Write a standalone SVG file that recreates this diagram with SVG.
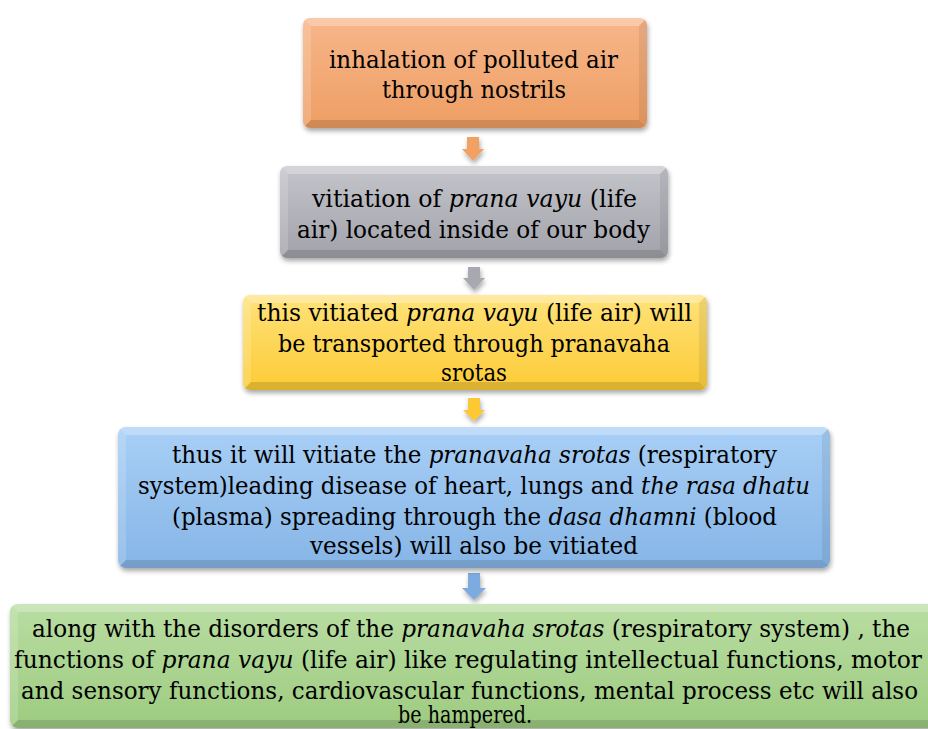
<svg xmlns="http://www.w3.org/2000/svg" width="928" height="729" viewBox="0 0 928 729">
<style>
  text { font-family: "DejaVu Serif", serif; font-size: 25px; fill: #000; }
  .i { font-style: italic; }
  .bt { fill: #fff; opacity: 0.28; }
  .bl { fill: #fff; opacity: 0.16; }
  .bb { fill: #000; opacity: 0.13; }
  .br { fill: #000; opacity: 0.07; }
</style>
<defs>
  <filter id="sh" x="-10%" y="-20%" width="130%" height="150%">
    <feGaussianBlur in="SourceAlpha" stdDeviation="2.5"/>
    <feOffset dx="1" dy="3" result="o"/>
    <feComponentTransfer><feFuncA type="linear" slope="0.35"/></feComponentTransfer>
    <feMerge><feMergeNode/><feMergeNode in="SourceGraphic"/></feMerge>
  </filter>
  <linearGradient id="gO" x1="0" y1="0" x2="0" y2="1"><stop offset="0" stop-color="#F7B68A"/><stop offset="1" stop-color="#EE9E63"/></linearGradient>
  <linearGradient id="gG" x1="0" y1="0" x2="0" y2="1"><stop offset="0" stop-color="#C4C4CB"/><stop offset="1" stop-color="#A2A2AA"/></linearGradient>
  <linearGradient id="gY" x1="0" y1="0" x2="0" y2="1"><stop offset="0" stop-color="#FFE27A"/><stop offset="1" stop-color="#FCCB36"/></linearGradient>
  <linearGradient id="gB" x1="0" y1="0" x2="0" y2="1"><stop offset="0" stop-color="#A8CFF6"/><stop offset="1" stop-color="#86B5E6"/></linearGradient>
  <linearGradient id="gN" x1="0" y1="0" x2="0" y2="1"><stop offset="0" stop-color="#B9DDA2"/><stop offset="1" stop-color="#9DCB80"/></linearGradient>
  <clipPath id="c1"><rect x="303" y="18" width="344" height="110" rx="7"/></clipPath>
  <clipPath id="c2"><rect x="280" y="166" width="388" height="92" rx="7"/></clipPath>
  <clipPath id="c3"><rect x="243" y="295" width="464" height="95" rx="7"/></clipPath>
  <clipPath id="c4"><rect x="118" y="427" width="712" height="141" rx="8"/></clipPath>
  <clipPath id="c5"><rect x="10" y="604" width="930" height="124" rx="8"/></clipPath>
</defs>

<g id="connectors">
  <polygon filter="url(#sh)" fill="#F3A163" points="467,137 479,137 479,149 484,149 473,161 462,149 467,149"/>
  <polygon filter="url(#sh)" fill="#A8A8B0" points="468,267 480,267 480,278 485,278 474,290 463,278 468,278"/>
  <polygon filter="url(#sh)" fill="#FCC934" points="468,398 480,398 480,410 485,410 474,421 463,410 468,410"/>
  <polygon filter="url(#sh)" fill="#7DABDF" points="468,573 480,573 480,588 486,588 474,600 462,588 468,588"/>
</g>

<g id="n1">
  <g filter="url(#sh)">
    <rect x="303" y="18" width="344" height="110" rx="7" fill="url(#gO)"/>
    <g clip-path="url(#c1)">
      <polygon class="bt" points="303,18 647,18 639,26 311,26"/>
      <polygon class="bl" points="303,18 311,26 311,120 303,128"/>
      <polygon class="bb" points="303,128 311,120 639,120 647,128"/>
      <polygon class="br" points="647,18 647,128 639,120 639,26"/>
    </g>
  </g>
  <text x="329" y="68" textLength="289" lengthAdjust="spacingAndGlyphs">inhalation of polluted air</text>
  <text x="382" y="98" textLength="184" lengthAdjust="spacingAndGlyphs">through nostrils</text>
</g>

<g id="n2">
  <g filter="url(#sh)">
    <rect x="280" y="166" width="388" height="92" rx="7" fill="url(#gG)"/>
    <g clip-path="url(#c2)">
      <polygon class="bt" points="280,166 668,166 660,174 288,174"/>
      <polygon class="bl" points="280,166 288,174 288,250 280,258"/>
      <polygon class="bb" points="280,258 288,250 660,250 668,258"/>
      <polygon class="br" points="668,166 668,258 660,250 660,174"/>
    </g>
  </g>
  <text x="312" y="207" textLength="325" lengthAdjust="spacingAndGlyphs">vitiation of <tspan class="i">prana vayu</tspan> (life</text>
  <text x="297" y="238" textLength="353" lengthAdjust="spacingAndGlyphs">air) located inside of our body</text>
</g>

<g id="n3">
  <g filter="url(#sh)">
    <rect x="243" y="295" width="464" height="95" rx="7" fill="url(#gY)"/>
    <g clip-path="url(#c3)">
      <polygon class="bt" points="243,295 707,295 699,303 251,303"/>
      <polygon class="bl" points="243,295 251,303 251,382 243,390"/>
      <polygon class="bb" points="243,390 251,382 699,382 707,390"/>
      <polygon class="br" points="707,295 707,390 699,382 699,303"/>
    </g>
  </g>
  <text x="257" y="321" textLength="435" lengthAdjust="spacingAndGlyphs">this vitiated <tspan class="i">prana vayu</tspan> (life air) will</text>
  <text x="278" y="352" textLength="392" lengthAdjust="spacingAndGlyphs">be transported through pranavaha</text>
  <text x="441" y="381" textLength="66" lengthAdjust="spacingAndGlyphs">srotas</text>
</g>

<g id="n4">
  <g filter="url(#sh)">
    <rect x="118" y="427" width="712" height="141" rx="8" fill="url(#gB)"/>
    <g clip-path="url(#c4)">
      <polygon class="bt" points="118,427 830,427 822,435 126,435"/>
      <polygon class="bl" points="118,427 126,435 126,560 118,568"/>
      <polygon class="bb" points="118,568 126,560 822,560 830,568"/>
      <polygon class="br" points="830,427 830,568 822,560 822,435"/>
    </g>
  </g>
  <text x="172" y="463" textLength="605" lengthAdjust="spacingAndGlyphs">thus it will vitiate the <tspan class="i">pranavaha srotas</tspan> (respiratory</text>
  <text x="138" y="494" textLength="672" lengthAdjust="spacingAndGlyphs">system)leading disease of heart, lungs and <tspan class="i">the rasa dhatu</tspan></text>
  <text x="172" y="525" textLength="605" lengthAdjust="spacingAndGlyphs">(plasma) spreading through the <tspan class="i">dasa dhamni</tspan> (blood</text>
  <text x="310" y="554" textLength="328" lengthAdjust="spacingAndGlyphs">vessels) will also be vitiated</text>
</g>

<g id="n5">
  <g filter="url(#sh)">
    <rect x="10" y="604" width="930" height="124" rx="8" fill="url(#gN)"/>
    <g clip-path="url(#c5)">
      <polygon class="bt" points="10,604 940,604 932,612 18,612"/>
      <polygon class="bl" points="10,604 18,612 18,720 10,728"/>
      <polygon class="bb" points="10,728 18,720 932,720 940,728"/>
    </g>
  </g>
  <text x="32" y="637" textLength="878" lengthAdjust="spacingAndGlyphs">along with the disorders of the <tspan class="i">pranavaha srotas</tspan> (respiratory system) , the</text>
  <text x="14" y="668" textLength="908" lengthAdjust="spacingAndGlyphs">functions of <tspan class="i">prana vayu</tspan> (life air) like regulating intellectual functions, motor</text>
  <text x="21" y="699" textLength="897" lengthAdjust="spacingAndGlyphs">and sensory functions, cardiovascular functions, mental process etc will also</text>
  <text x="398" y="723" textLength="134" lengthAdjust="spacingAndGlyphs">be hampered.</text>
</g>
</svg>
